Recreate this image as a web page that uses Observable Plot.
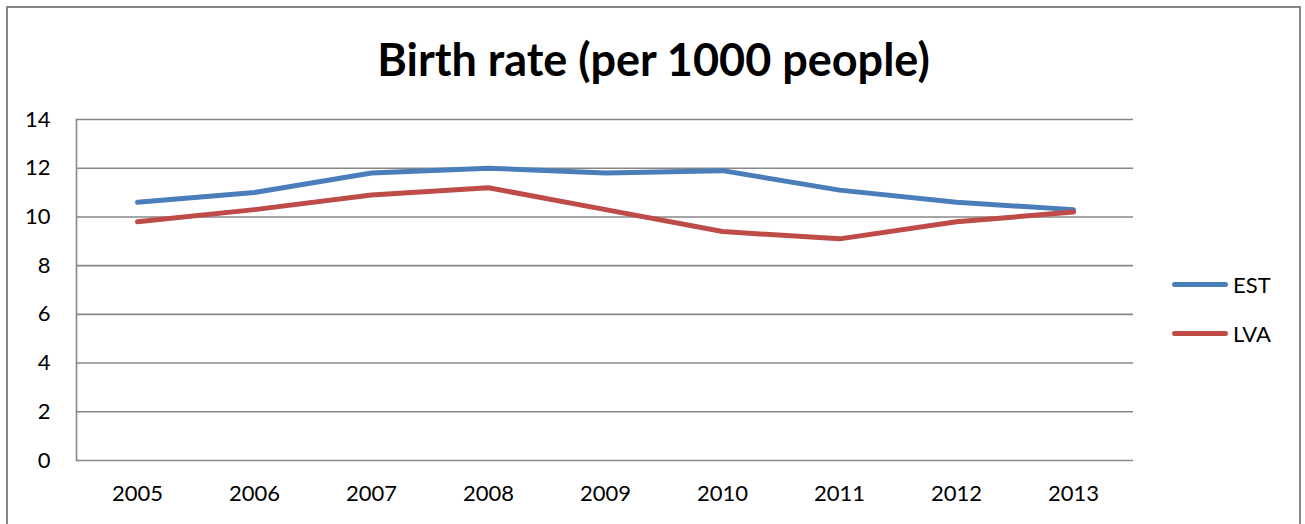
<!DOCTYPE html>
<html>
<head>
<meta charset="utf-8">
<script src="https://cdn.jsdelivr.net/npm/d3@7"></script>
<script src="https://cdn.jsdelivr.net/npm/@observablehq/plot@0.6"></script>
<style>
  html, body { margin: 0; padding: 0; background: #fff; overflow: hidden; }
  #wrap { position: relative; width: 1305px; height: 524px; overflow: hidden; font-family: Lato, "Open Sans", sans-serif; }
  #border { position: absolute; left: 6px; top: 6px; width: 1295px; height: 600px; border: 2px solid #878787; box-sizing: border-box; }
  #title { position: absolute; left: 7px; width: 1293px; top: 32px; text-align: center; font-size: 45px; font-weight: bold; color: #000; line-height: 54px; }
  #chart { position: absolute; left: 0; top: 0; }
  #legend { position: absolute; left: 1172px; top: 268px; font-size: 22px; color: #000; }
  .item { display: flex; align-items: center; height: 32px; }
  .item + .item { height: 66px; }
  .item .sw { width: 56px; height: 5px; border-radius: 3px; margin-right: 5px; }
</style>
</head>
<body>
<div id="wrap">
  <div id="border"></div>
  <div id="title">Birth rate (per 1000 people)</div>
  <div id="chart"></div>
  <div id="legend"></div>
</div>
<script>
const years = ["2005", "2006", "2007", "2008", "2009", "2010", "2011", "2012", "2013"];
const seriesNames = ["EST", "LVA"];
const estValues = [10.6, 11.0, 11.8, 12.0, 11.8, 11.9, 11.1, 10.6, 10.3];
const lvaValues = [9.8, 10.3, 10.9, 11.2, 10.3, 9.4, 9.1, 9.8, 10.2];
const seriesColors = ["#4A7EBB", "#BE4B48"];
const yTicks = [0, 2, 4, 6, 8, 10, 12, 14];

const rows = [];
years.forEach((yr, i) => {
  rows.push({year: yr, series: seriesNames[0], value: estValues[i]});
  rows.push({year: yr, series: seriesNames[1], value: lvaValues[i]});
});

const plot = Plot.plot({
  width: 1305,
  height: 524,
  marginLeft: 76,
  marginRight: 172,
  marginTop: 119,
  marginBottom: 64,
  style: { fontFamily: "Lato, 'Open Sans', sans-serif", fontSize: "22px", background: "transparent", color: "#000" },
  x: { type: "point", domain: years, padding: 0.5, label: null },
  y: { domain: [0, 14], ticks: yTicks, label: null },
  color: { domain: seriesNames, range: seriesColors },
  marks: [
    Plot.ruleY(yTicks, { stroke: "#878787", strokeWidth: 1.6, strokeOpacity: 1 }),
    Plot.frame({ anchor: "left", stroke: "#878787", strokeWidth: 1.6 }),
    Plot.axisY({ ticks: yTicks, tickSize: 0, tickPadding: 26, fontSize: 22, label: null }),
    Plot.axisX({ tickSize: 0, tickPadding: 25, fontSize: 22, label: null }),
    Plot.line(rows, { x: "year", y: "value", z: "series", stroke: "series", strokeWidth: 5, strokeLinecap: "round", strokeLinejoin: "round" })
  ]
});
document.getElementById("chart").appendChild(plot);

const legend = document.getElementById("legend");
seriesNames.forEach((name, i) => {
  const item = document.createElement("div");
  item.className = "item";
  const sw = document.createElement("div");
  sw.className = "sw";
  sw.style.background = seriesColors[i];
  const lab = document.createElement("span");
  lab.textContent = name;
  item.appendChild(sw);
  item.appendChild(lab);
  legend.appendChild(item);
});
</script>
</body>
</html>
